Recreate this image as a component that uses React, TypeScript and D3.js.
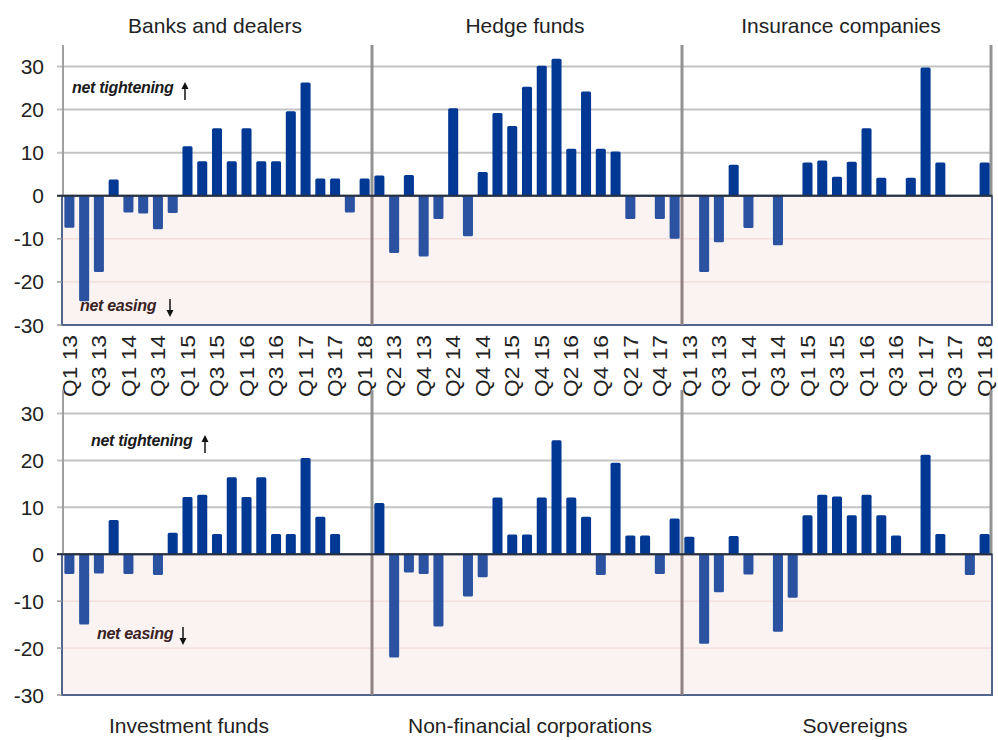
import React from "react";
import * as d3 from "d3";

const quarters = [
  "Q1 13", "Q2 13", "Q3 13", "Q4 13",
  "Q1 14", "Q2 14", "Q3 14", "Q4 14",
  "Q1 15", "Q2 15", "Q3 15", "Q4 15",
  "Q1 16", "Q2 16", "Q3 16", "Q4 16",
  "Q1 17", "Q2 17", "Q3 17", "Q4 17",
  "Q1 18",
];

const banksDealers = [-7.4, -24.5, -17.7, 3.8, -3.9, -4.1, -7.8, -4, 11.5, 8, 15.7, 8, 15.7, 8, 8, 19.6, 26.3, 4, 4, -3.9, 4];
const hedgeFunds = [4.7, -13.3, 4.8, -14.1, -5.4, 20.3, -9.4, 5.5, 19.2, 16.2, 25.3, 30.2, 31.8, 10.9, 24.2, 10.9, 10.3, -5.4, 0, -5.4, -10];
const insuranceCompanies = [0, -17.7, -10.8, 7.2, -7.5, 0, -11.5, 0, 7.7, 8.2, 4.4, 7.9, 15.7, 4.2, 0, 4.2, 29.8, 7.7, 0, 0, 7.7];
const investmentFunds = [-4.2, -15, -4.1, 7.3, -4.2, 0, -4.4, 4.6, 12.2, 12.7, 4.3, 16.4, 12.2, 16.4, 4.3, 4.3, 20.5, 8, 4.3, 0, 0];
const nonFinancialCorps = [10.9, -22, -3.9, -4.2, -15.4, 0, -9, -4.9, 12.1, 4.2, 4.2, 12.1, 24.3, 12.1, 8, -4.4, 19.5, 4, 4, -4.2, 7.6];
const sovereigns = [3.7, -19.1, -8.1, 3.9, -4.3, 0, -16.5, -9.3, 8.3, 12.7, 12.3, 8.3, 12.7, 8.3, 4, 0, 21.2, 4.3, 0, -4.4, 4.3];

const topTitles = ["Banks and dealers", "Hedge funds", "Insurance companies"];
const bottomTitles = ["Investment funds", "Non-financial corporations", "Sovereigns"];
const yTicks = [-30, -20, -10, 0, 10, 20, 30];

const W = 998;
const H = 740;
const left = 62;
const right = 992;
const font = "'Liberation Sans', Arial, sans-serif";

const POS = "#003894";
const NEG = "#2a52a1";

const allIdx = d3.range(quarters.length * 3);
const x = d3.scaleBand<number>()
  .domain(allIdx)
  .range([left, right])
  .paddingInner(0.32)
  .paddingOuter(0.16);
const step = x.step();

type RowProps = {
  series: number[][];
  titles: string[];
  titleX: number[];
  titleY: number;
  top: number;
  bottom: number;
  showLabels: boolean;
  tight: { x: number; y: number; ax: number };
  ease: { x: number; y: number; ax: number };
};

function Row({ series, titles, titleX, titleY, top, bottom, showLabels, tight, ease }: RowProps) {
  const y = d3.scaleLinear().domain([-30, 35]).range([bottom, top]);
  const y0 = y(0);
  const flat = series.flat();
  const seps = [1, 2].map((k) => left + step * quarters.length * k);

  return (
    <g>
      {/* negative zone */}
      <rect x={left} y={y0} width={right - left} height={y(-30) - y0}
        fill="#faf3f2" stroke="#52668c" strokeWidth={2} />
      {yTicks.filter((t) => t < 0 && t > -30).map((t) => (
        <line key={t} x1={left + 1} x2={right - 1} y1={y(t)} y2={y(t)} stroke="#efd4cf" strokeWidth={1} />
      ))}
      {yTicks.filter((t) => t > 0).map((t) => (
        <line key={t} x1={left - 5} x2={right} y1={y(t)} y2={y(t)} stroke="#c4c4c4" strokeWidth={2} />
      ))}
      {yTicks.filter((t) => t <= 0).map((t) => (
        <line key={"tk" + t} x1={left - 5} x2={left} y1={y(t)} y2={y(t)} stroke="#9a9a9a" strokeWidth={1.5} />
      ))}
      {/* left axis above zero */}
      <line x1={left + 1} x2={left + 1} y1={top} y2={y0} stroke="#a0a0a0" strokeWidth={2} />
      <line x1={right - 1} x2={right - 1} y1={top} y2={y0} stroke="#939393" strokeWidth={3} />
      {seps.map((s, i) => (
        <g key={i}>
          <line x1={s} x2={s} y1={top} y2={y0} stroke="#939393" strokeWidth={3} />
          <line x1={s} x2={s} y1={y0} y2={y(-30)} stroke="#8f8280" strokeWidth={3} />
        </g>
      ))}
      {/* bars */}
      {flat.map((v, i) =>
        v === 0 ? null : (
          <rect key={i} x={x(i)} width={x.bandwidth()}
            y={v > 0 ? y(v) : y0} height={Math.abs(y(v) - y0)}
            rx={1.5} fill={v > 0 ? POS : NEG} />
        )
      )}
      <line x1={left - 5} x2={right} y1={y0} y2={y0} stroke="#27303f" strokeWidth={2} />
      {/* y tick labels */}
      {yTicks.map((t) => (
        <text key={"l" + t} x={44} y={y(t)} dy="0.36em" textAnchor="end"
          fontFamily={font} fontSize={21} fill="#222">{t}</text>
      ))}
      {/* x labels */}
      {showLabels && allIdx.filter((i) => i % 2 === 0).map((i) => (
        <text key={"x" + i}
          transform={`translate(${x(i)! + x.bandwidth() / 2},${bottom + 10}) rotate(-90)`}
          textAnchor="end" dy="0.36em" fontFamily={font} fontSize={20}
          textLength={62} lengthAdjust="spacingAndGlyphs" fill="#222">
          {quarters[i % quarters.length]}
        </text>
      ))}
      {/* titles */}
      {titles.map((t, i) => (
        <text key={t} x={titleX[i]} y={titleY} textAnchor="middle"
          fontFamily={font} fontSize={21} fill="#222">{t}</text>
      ))}
      {/* annotations */}
      <text x={tight.x} y={tight.y} fontFamily={font} fontSize={16} fontStyle="italic"
        fontWeight="bold" fill="#1a1a1a" letterSpacing={-0.3}>net tightening</text>
      <line x1={tight.ax} x2={tight.ax} y1={tight.y + 7} y2={tight.y - 6} stroke="#111" strokeWidth={1.5} />
      <path d={`M${tight.ax - 3.5},${tight.y - 4} L${tight.ax},${tight.y - 11} L${tight.ax + 3.5},${tight.y - 4} Z`} fill="#111" />
      <text x={ease.x} y={ease.y} fontFamily={font} fontSize={16} fontStyle="italic"
        fontWeight="bold" fill="#3a2222" letterSpacing={-0.3}>net easing</text>
      <line x1={ease.ax} x2={ease.ax} y1={ease.y - 12} y2={ease.y + 1} stroke="#111" strokeWidth={1.5} />
      <path d={`M${ease.ax - 3.5},${ease.y - 1} L${ease.ax},${ease.y + 6} L${ease.ax + 3.5},${ease.y - 1} Z`} fill="#111" />
    </g>
  );
}

export default function App() {
  return (
    <svg width={W} height={H} style={{ position: "absolute", left: 0, top: 0, background: "#fff" }}>
      <Row
        series={[banksDealers, hedgeFunds, insuranceCompanies]}
        titles={topTitles}
        titleX={[215, 525, 841]}
        titleY={33}
        top={45}
        bottom={325}
        showLabels={true}
        tight={{ x: 72, y: 93, ax: 185 }}
        ease={{ x: 80, y: 311, ax: 170 }}
      />
      <Row
        series={[investmentFunds, nonFinancialCorps, sovereigns]}
        titles={bottomTitles}
        titleX={[189, 530, 855]}
        titleY={733}
        top={390}
        bottom={695}
        showLabels={false}
        tight={{ x: 91, y: 446, ax: 205 }}
        ease={{ x: 97, y: 639, ax: 183 }}
      />
    </svg>
  );
}
